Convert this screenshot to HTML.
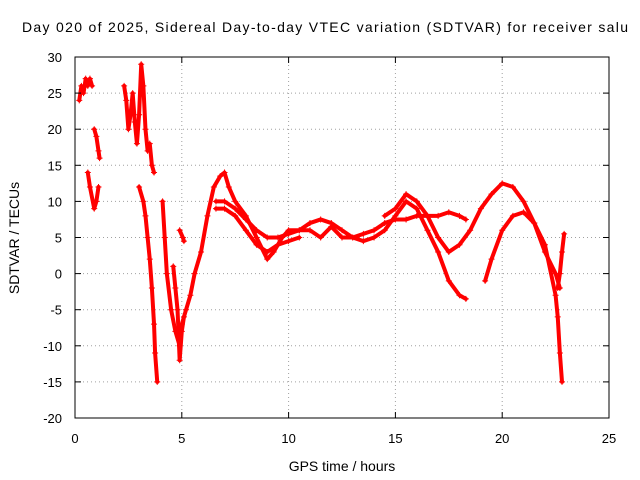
<!DOCTYPE html>
<html><head><meta charset="utf-8"><style>
html,body{margin:0;padding:0;background:#fff}
svg{display:block;font-family:"Liberation Sans",sans-serif}
</style></head><body>
<svg id="chart" width="640" height="480">
<rect width="640" height="480" fill="#fff"/>
<text x="22" y="32" font-size="14" textLength="606" lengthAdjust="spacing">Day 020 of 2025, Sidereal Day-to-day VTEC variation (SDTVAR) for receiver salu</text>
<g id="grid"></g>
<g id="series"></g>
<rect x="75" y="57" width="534" height="361" fill="none" stroke="#000" stroke-width="1"/>
<g id="ticks" font-size="13"></g>
<text x="342" y="471" font-size="14" text-anchor="middle">GPS time / hours</text>
<text transform="translate(19,238) rotate(-90)" font-size="14" text-anchor="middle">SDTVAR / TECUs</text>
</svg>
<script>
const xTicks=[0,5,10,15,20,25];
const yTicks=[-20,-15,-10,-5,0,5,10,15,20,25,30];
const trackA=[[0.2,24],[0.3,26],[0.4,25],[0.5,27],[0.6,26],[0.7,27],[0.8,26]];
const trackA2=[[0.9,20],[1.0,19],[1.1,17],[1.15,16]];
const trackA3=[[0.6,14],[0.7,12],[0.9,9],[1.0,10],[1.1,12]];
const trackB=[[2.3,26],[2.4,24],[2.5,20],[2.6,22],[2.7,25],[2.8,21],[2.9,18],[3.0,22],[3.1,29],[3.2,26],[3.3,20],[3.4,17],[3.5,18],[3.6,15],[3.7,14]];
const trackB2=[[3.0,12],[3.2,10],[3.3,8],[3.4,5],[3.5,2],[3.6,-2],[3.7,-7],[3.75,-11],[3.85,-15]];
const trackC=[[4.1,10],[4.2,5],[4.3,0],[4.5,-5],[4.7,-8],[4.9,-10],[5.0,-7],[5.2,-5],[5.4,-3],[5.6,0],[5.9,3],[6.2,8],[6.5,12],[6.8,13.5],[7.0,14],[7.2,12],[7.5,10],[8.0,8],[8.5,5],[9.0,2],[9.3,3],[9.7,5],[10.0,6],[10.5,6],[11.0,7],[11.5,7.5],[12.0,7],[12.5,6],[13.0,5],[13.5,4.5],[14.0,5],[14.5,6],[15.0,8],[15.5,10],[16.0,9],[16.5,6],[17.0,3],[17.5,-1],[18.0,-3],[18.3,-3.5]];
const trackD=[[6.6,10],[7.0,10],[7.5,9],[8.0,7.5],[8.5,6],[9.0,5],[9.5,5],[10.0,5.5],[10.5,6],[11.0,6],[11.5,5],[12.0,6.5],[12.5,5],[13.0,5],[13.5,5.5],[14.0,6],[14.5,7],[15.0,7.5],[15.5,7.5],[16.0,8],[16.5,8],[17.0,8],[17.5,8.5],[18.0,8],[18.3,7.5]];
const trackE=[[6.6,9],[7.0,9],[7.5,8],[8.0,6],[8.5,4],[9.0,3],[9.5,4],[10.0,4.5],[10.5,5]];
const trackF=[[14.5,8],[15.0,9],[15.5,11],[16.0,10],[16.5,8],[17.0,5],[17.5,3],[18.0,4],[18.5,6],[19.0,9],[19.5,11],[20.0,12.5],[20.5,12],[21.0,10],[21.5,7],[22.0,3],[22.5,0],[22.7,-2]];
const trackG=[[19.2,-1],[19.5,2],[20.0,6],[20.5,8],[21.0,8.5],[21.5,7],[22.0,4],[22.5,-3],[22.6,-6],[22.7,-11],[22.8,-15]];
const trackH=[[22.6,-2],[22.7,0],[22.8,3],[22.9,5.5]];
const trackI=[[4.9,6],[5.05,5],[5.1,4.5]];
const trackJ=[[4.6,1],[4.7,-2],[4.8,-5],[4.9,-12],[5.0,-8],[5.1,-6]];
const tracks=[trackA,trackA2,trackA3,trackB,trackB2,trackC,trackD,trackE,trackF,trackG,trackH,trackI,trackJ];
const NS="http://www.w3.org/2000/svg";
const X=v=>75+v*(534/25), Y=v=>418-(v+20)*(361/50);
const grid=document.getElementById('grid'),ticks=document.getElementById('ticks'),ser=document.getElementById('series');
function mk(tag,at,par){const e=document.createElementNS(NS,tag);for(const k in at)e.setAttribute(k,at[k]);par.appendChild(e);return e;}
xTicks.forEach(t=>{
 if(t>0&&t<25){const g=mk('line',{x1:X(t),x2:X(t),y1:57,y2:418,stroke:'#a0a0a0','stroke-dasharray':'1,3'},grid);
 
 }
 const l=mk('text',{x:X(t),y:443,'text-anchor':'middle'},ticks);l.textContent=t;
 
 
 mk('line',{x1:X(t),x2:X(t),y1:418,y2:412,stroke:'#000'},ticks);mk('line',{x1:X(t),x2:X(t),y1:57,y2:63,stroke:'#000'},ticks);
});
yTicks.forEach(t=>{
 if(t>-20&&t<30){const g=mk('line',{x1:75,x2:609,y1:Y(t),y2:Y(t),stroke:'#a0a0a0','stroke-dasharray':'1,3'},grid);
 
 }
 const l=mk('text',{x:62,y:Y(t)+5,'text-anchor':'end'},ticks);l.textContent=t;
 
 
 mk('line',{x1:75,x2:81,y1:Y(t),y2:Y(t),stroke:'#000'},ticks);mk('line',{x1:609,x2:603,y1:Y(t),y2:Y(t),stroke:'#000'},ticks);
});
tracks.forEach(tr=>{
 const g=mk('g',{},ser);
 
 
 mk('polyline',{points:tr.map(p=>X(p[0])+','+Y(p[1])).join(' '),fill:'none',stroke:'#f00','stroke-width':4,'stroke-linejoin':'round','stroke-linecap':'round'},g);
 tr.forEach(p=>{
  const m=mk('path',{d:`M${X(p[0])-3},${Y(p[1])}h6M${X(p[0])},${Y(p[1])-3}v6`,stroke:'#f00','stroke-width':1},g);
  
  
 });
});
</script>
</body></html>
